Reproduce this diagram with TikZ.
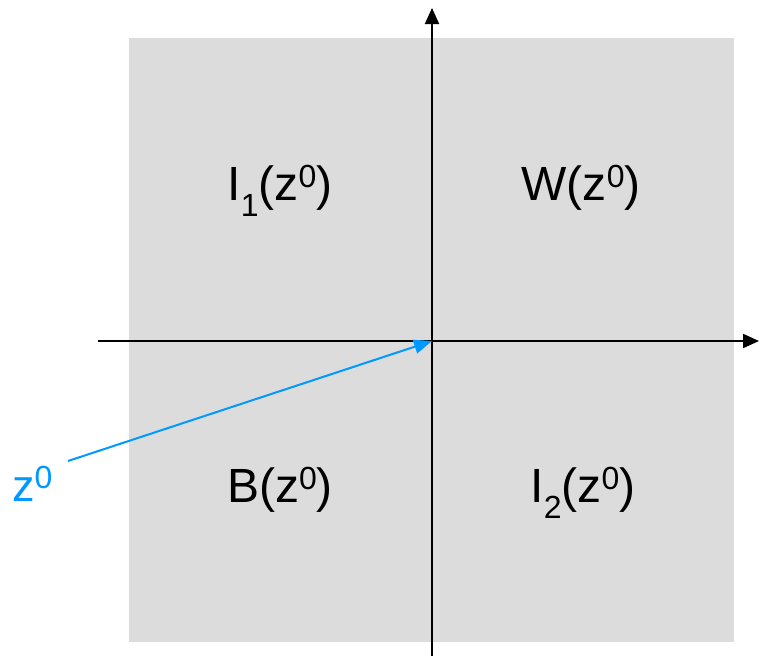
\documentclass[tikz,border=0pt]{standalone}
\usepackage{fontspec}
\setmainfont{Liberation Sans}
\usetikzlibrary{arrows.meta}
\definecolor{quadgray}{RGB}{220,220,220}
\definecolor{zblue}{RGB}{0,153,255}
\newcommand{\mysup}[1]{\raisebox{13pt}{\fontsize{32}{32}\selectfont #1}}
\newcommand{\mysub}[1]{\raisebox{-16pt}{\fontsize{32}{32}\selectfont #1}}
\tikzset{
  axis/.style={line width=2pt, -{Triangle[length=16pt,width=14pt]}},
  quadlabel/.style={font=\fontsize{48}{52}\selectfont, inner sep=0pt, anchor=base},
  zlabel/.style={font=\fontsize{45}{50}\selectfont, text=zblue, inner sep=0pt, anchor=base west},
  zarrow/.style={line width=2pt, draw=zblue, -{Triangle[length=18pt,width=14pt]}}
}
\begin{document}
\begin{tikzpicture}[x=1pt,y=-1pt]
\useasboundingbox (0,0) rectangle (759,656);
\fill[quadgray] (129,38) rectangle (734,642);
\coordinate (xl) at (98,341);
\coordinate (xr) at (759,341);
\coordinate (yb) at (432,656);
\coordinate (yt) at (432,8);
\coordinate (o) at (432,341);
\coordinate (zs) at (68,461);
\draw[axis] (xl) -- (xr);
\draw[axis] (yb) -- (yt);
\draw[zarrow] (zs) -- (o);
\node[quadlabel] (i1) at (280,200) {I\mysub{1}(z\mysup{0})};
\node[quadlabel] (w) at (581,200) {W(z\mysup{0})};
\node[quadlabel] (b) at (280,502) {B(z\mysup{0})};
\node[quadlabel] (i2) at (583,502) {I\mysub{2}(z\mysup{0})};
\node[zlabel] (z) at (12,501) {z\mysup{0}};
\end{tikzpicture}
\end{document}
